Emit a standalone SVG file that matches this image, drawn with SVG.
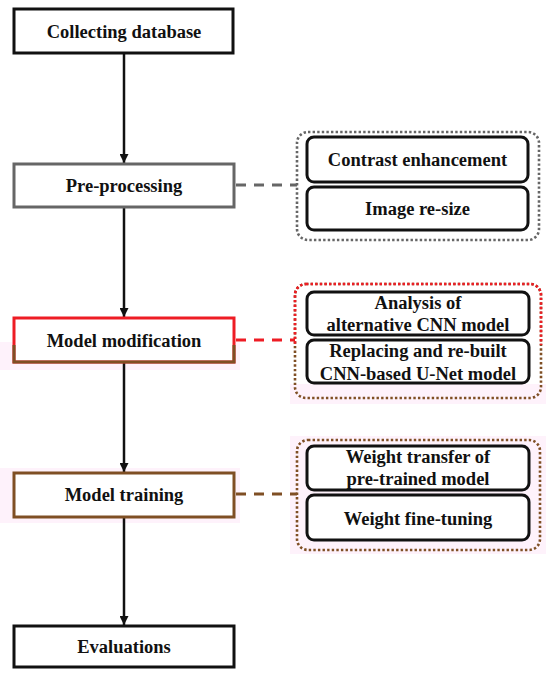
<svg xmlns="http://www.w3.org/2000/svg" width="550" height="677" viewBox="0 0 550 677">
<style>
text{font-family:"Liberation Serif","Times New Roman","DejaVu Serif",serif;font-weight:bold;font-size:18.5px;fill:#111;text-anchor:middle}
.box{fill:#fff;stroke-width:3}
.inner{fill:#fff;stroke:#111;stroke-width:3}
.dot{fill:none;stroke-width:2.6;stroke-dasharray:2.4 2.2}
.flow{stroke:#111;stroke-width:2.5;fill:none}
.dash{stroke-width:3;stroke-dasharray:10 8;fill:none}
.halo{fill:#fef2fb}
</style>
<defs>
<marker id="arr" viewBox="0 0 10 10" refX="10" refY="5" markerWidth="9" markerHeight="9" markerUnits="userSpaceOnUse" orient="auto">
<path d="M0,0 L10,5 L0,10 z" fill="#111"/>
</marker>
<clipPath id="topHalf"><rect x="280" y="270" width="270" height="75"/></clipPath>
</defs>
<rect width="550" height="677" fill="#fff"/>
<rect class="halo" x="0" y="342" width="240" height="28"/>
<rect class="halo" x="0" y="468" width="240" height="55"/>
<rect class="halo" x="290" y="384" width="256" height="20"/>
<rect class="halo" x="290" y="436" width="256" height="118"/>

<g id="connectors">
<line class="flow" x1="124" y1="53" x2="124" y2="163" marker-end="url(#arr)"/>
<line class="flow" x1="124" y1="207" x2="124" y2="317" marker-end="url(#arr)"/>
<line class="flow" x1="124" y1="362" x2="124" y2="472" marker-end="url(#arr)"/>
<line class="flow" x1="124" y1="517" x2="124" y2="625" marker-end="url(#arr)"/>
<line class="dash" stroke="#666" x1="236" y1="185" x2="297" y2="185"/>
<line class="dash" stroke="#ee1c24" x1="236" y1="340" x2="295" y2="340"/>
<line class="dash" stroke="#7f4f24" x1="236" y1="494" x2="297" y2="494"/>
</g>

<g id="collecting">
<rect class="box" stroke="#111" x="14" y="9" width="219" height="44"/>
<text x="124" y="38">Collecting database</text>
</g>

<g id="preprocessing">
<rect class="box" stroke="#666" x="14" y="164" width="220" height="43"/>
<text x="124" y="192">Pre-processing</text>
</g>

<g id="modification">
<rect class="box" stroke="#ee1c24" x="14" y="318" width="220" height="44"/>
<path d="M14,345 V362 H234 V345" fill="none" stroke="#7f4f24" stroke-width="3"/>
<text x="124" y="347">Model modification</text>
</g>

<g id="training">
<rect class="box" stroke="#7f4f24" x="14" y="473" width="220" height="44"/>
<text x="124" y="501">Model training</text>
</g>

<g id="evaluations">
<rect class="box" stroke="#111" x="14" y="626" width="220" height="41"/>
<text x="124" y="653">Evaluations</text>
</g>

<g id="preprocessing-details">
<rect class="dot" stroke="#666" x="297" y="132" width="242" height="108" rx="11"/>
<rect class="inner" x="307" y="137" width="221" height="45" rx="7"/>
<text x="417.5" y="166">Contrast enhancement</text>
<rect class="inner" x="307" y="187" width="221" height="43" rx="7"/>
<text x="417.5" y="215">Image re-size</text>
</g>

<g id="modification-details">
<rect class="dot" stroke="#7f4f24" x="295" y="284" width="246" height="114" rx="11"/>
<rect class="dot" stroke="#ee1c24" x="295" y="284" width="246" height="114" rx="11" clip-path="url(#topHalf)"/>
<rect class="inner" x="307" y="292" width="222" height="43" rx="7"/>
<text x="418" y="309">Analysis of</text>
<text x="418" y="331">alternative CNN model</text>
<rect class="inner" x="307" y="340" width="222" height="43" rx="7"/>
<text x="418" y="357">Replacing and re-built</text>
<text x="418" y="380">CNN-based U-Net model</text>
</g>

<g id="training-details">
<rect class="dot" stroke="#7f4f24" x="297" y="440" width="243" height="110" rx="11"/>
<rect class="inner" x="307" y="446" width="222" height="44" rx="7"/>
<text x="418" y="463">Weight transfer of</text>
<text x="418" y="485">pre-trained model</text>
<rect class="inner" x="307" y="495" width="222" height="45" rx="7"/>
<text x="418" y="525">Weight fine-tuning</text>
</g>
</svg>
